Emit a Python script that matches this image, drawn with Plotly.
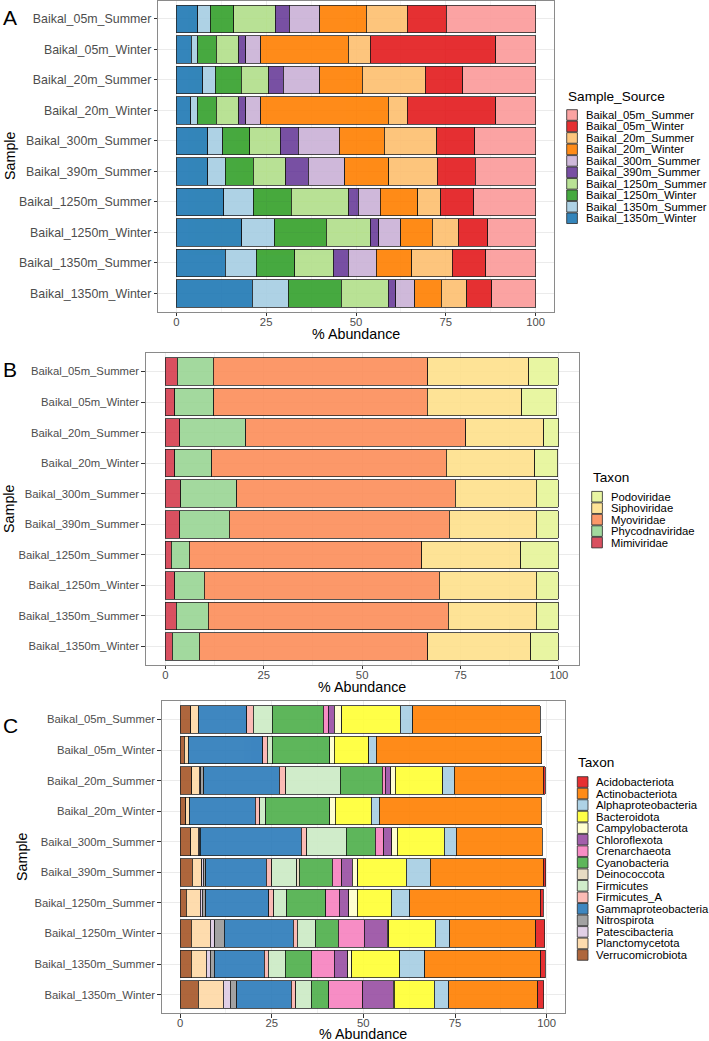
import plotly.graph_objects as go

W, H = 709, 1041
FONT = "Liberation Sans, Arial, sans-serif"

samples = ["Baikal_05m_Summer", "Baikal_05m_Winter", "Baikal_20m_Summer", "Baikal_20m_Winter",
           "Baikal_300m_Summer", "Baikal_390m_Summer", "Baikal_1250m_Summer", "Baikal_1250m_Winter",
           "Baikal_1350m_Summer", "Baikal_1350m_Winter"]

# ---- panel A: sample source (% abundance), stacked left to right
src_names = ["Baikal_1350m_Winter", "Baikal_1350m_Summer", "Baikal_1250m_Winter", "Baikal_1250m_Summer",
             "Baikal_390m_Summer", "Baikal_300m_Summer", "Baikal_20m_Winter", "Baikal_20m_Summer",
             "Baikal_05m_Winter", "Baikal_05m_Summer"]
src_colors = ["#1F78B4", "#A6CEE3", "#33A02C", "#B2DF8A", "#6A3D9A",
              "#CAB2D6", "#FF7F00", "#FDBF6F", "#E31A1C", "#FB9A99"]
src_1350m_winter = [6.0, 4.2, 7.4, 4.0, 8.8, 8.7, 13.2, 18.2, 13.6, 21.1]
src_1350m_summer = [3.5, 1.8, 3.5, 1.9, 4.1, 4.9, 8.2, 9.0, 8.6, 10.0]
src_1250m_winter = [6.5, 5.1, 7.2, 5.2, 7.6, 7.8, 10.6, 14.5, 10.7, 14.8]
src_1250m_summer = [11.6, 6.3, 7.6, 6.3, 8.4, 9.1, 16.0, 12.3, 10.8, 13.1]
src_390m_summer = [3.8, 1.9, 4.1, 1.9, 5.0, 6.2, 2.6, 2.3, 4.2, 2.1]
src_300m_summer = [8.5, 4.2, 10.1, 4.2, 11.4, 10.2, 6.2, 6.1, 7.7, 5.3]
src_20m_winter = [13.0, 24.4, 11.8, 35.5, 12.5, 12.2, 10.4, 8.8, 9.9, 7.3]
src_20m_summer = [11.4, 6.1, 17.6, 5.3, 14.6, 13.5, 6.4, 7.3, 11.3, 7.1]
src_05m_winter = [10.8, 34.9, 10.4, 24.6, 10.6, 10.6, 9.1, 8.2, 9.3, 7.0]
src_05m_summer = [24.9, 11.1, 20.3, 11.1, 17.0, 16.8, 17.3, 13.3, 13.9, 12.2]
src_values = [src_1350m_winter, src_1350m_summer, src_1250m_winter, src_1250m_summer, src_390m_summer,
              src_300m_summer, src_20m_winter, src_20m_summer, src_05m_winter, src_05m_summer]

# ---- panel B: viral families
vir_names = ["Mimiviridae", "Phycodnaviridae", "Myoviridae", "Siphoviridae", "Podoviridae"]
vir_colors = ["#D53E4F", "#99D594", "#FC8D59", "#FEE08B", "#E6F598"]
mimiviridae = [3.0, 2.3, 3.6, 2.3, 3.9, 3.6, 1.5, 2.3, 2.7, 1.7]
phycodnaviridae = [9.1, 10.0, 16.8, 9.5, 14.2, 12.6, 4.6, 7.6, 8.2, 6.9]
myoviridae = [54.6, 54.3, 55.9, 59.6, 55.6, 56.0, 59.0, 59.7, 61.0, 58.1]
siphoviridae = [25.7, 24.0, 19.9, 22.5, 20.6, 22.0, 25.2, 24.7, 22.4, 26.2]
podoviridae = [7.5, 8.8, 3.8, 5.8, 5.5, 5.6, 9.5, 5.5, 5.5, 7.0]
vir_values = [mimiviridae, phycodnaviridae, myoviridae, siphoviridae, podoviridae]

# ---- panel C: bacterial taxa
bac_names = ["Verrucomicrobiota", "Planctomycetota", "Patescibacteria", "Nitrospirota", "Gammaproteobacteria",
             "Firmicutes_A", "Firmicutes", "Deinococcota", "Cyanobacteria", "Crenarchaeota", "Chloroflexota",
             "Campylobacterota", "Bacteroidota", "Alphaproteobacteria", "Actinobacteriota", "Acidobacteriota"]
bac_colors = ["#A65628", "#FED9A6", "#DECBE4", "#999999", "#2B7BBA", "#FBB4AE", "#CCEBC5", "#E5D8BD",
              "#4DAF4A", "#F781BF", "#984EA3", "#FFFFCC", "#FFFF33", "#A6CEE3", "#FF7F00", "#E41A1C"]
verrucomicrobiota = [2.9, 1.2, 3.2, 1.5, 2.9, 3.4, 1.7, 3.1, 3.1, 5.0]
planctomycetota = [2.1, 1.0, 2.1, 1.0, 2.1, 2.5, 3.8, 5.2, 4.1, 6.8]
patescibacteria = [0, 0, 0.4, 0, 0.3, 0.5, 0.5, 1.2, 1.0, 1.9]
nitrospirota = [0, 0, 0.8, 0, 0.2, 0.6, 1.0, 2.6, 1.2, 1.8]
gammaproteobacteria = [13.2, 20.3, 20.6, 18.0, 27.6, 16.5, 17.2, 18.8, 13.6, 14.9]
firmicutes_a = [1.8, 1.3, 1.8, 1.3, 1.5, 1.5, 1.4, 1.1, 1.0, 1.2]
firmicutes = [5.2, 1.4, 14.8, 1.6, 10.7, 6.8, 3.5, 5.0, 4.7, 4.2]
deinococcota = [0, 0, 0, 0, 0, 0.7, 0, 0, 0, 0]
cyanobacteria = [13.9, 15.7, 11.5, 17.5, 8.0, 9.0, 10.6, 6.2, 7.2, 4.7]
crenarchaeota = [1.3, 0, 0.8, 0, 2.2, 2.6, 3.7, 7.0, 6.2, 9.4]
chloroflexota = [1.6, 0, 1.5, 0, 2.2, 2.9, 2.6, 6.3, 3.6, 8.3]
campylobacterota = [2.1, 1.2, 1.2, 1.4, 1.6, 1.5, 2.4, 0.4, 1.1, 0.2]
bacteroidota = [16.0, 9.4, 12.9, 9.8, 12.7, 13.2, 9.4, 12.7, 13.1, 11.0]
alphaproteobacteria = [3.4, 2.0, 3.2, 2.2, 3.4, 6.5, 4.8, 3.9, 6.8, 3.9]
actinobacteriota = [34.8, 45.2, 24.2, 44.2, 23.4, 30.9, 35.7, 23.5, 31.7, 24.2]
acidobacteriota = [0, 0, 0.6, 0, 0, 0.6, 0.7, 2.5, 1.2, 1.7]
bac_values = [verrucomicrobiota, planctomycetota, patescibacteria, nitrospirota, gammaproteobacteria,
              firmicutes_a, firmicutes, deinococcota, cyanobacteria, crenarchaeota, chloroflexota,
              campylobacterota, bacteroidota, alphaproteobacteria, actinobacteriota, acidobacteriota]

xticks = [0, 25, 50, 75, 100]


def px(x):
    return x / W


def py(y):
    return 1 - y / H


fig = go.Figure()

# panel frames in pixels: (left, right), (top, bottom), y label size, x-title offset
panels = [((158.3, 553.7), (0.5, 311.7), 12.4, 22),
          ((145.8, 578.5), (353.2, 664.8), 11.3, 22),
          ((161.7, 565.0), (701.1, 1013.0), 11.3, 20.5)]
datasets = [(src_names, src_colors, src_values),
            (vir_names, vir_colors, vir_values),
            (bac_names, bac_colors, bac_values)]

for i, ((names, colors, values), ((l, r), (t, b), ysize, toff)) in enumerate(zip(datasets, panels)):
    sfx = "" if i == 0 else str(i + 1)
    for name, col, vals in zip(names, colors, values):
        fig.add_trace(go.Bar(
            x=[v if v > 0 else None for v in vals], y=samples, orientation="h", name=name,
            marker=dict(color=col, line=dict(color="#111111", width=0.8)), opacity=0.9,
            xaxis="x" + sfx, yaxis="y" + sfx, showlegend=False, hoverinfo="x+y+name"))

    common = dict(showline=True, mirror=True, linecolor="#8a8a8a", linewidth=1,
                  ticks="outside", ticklen=3.5, tickwidth=1, tickcolor="#333333",
                  tickfont=dict(family=FONT, size=11.3, color="#4D4D4D"),
                  showgrid=True, gridcolor="#EBEBEB", gridwidth=1, zeroline=False, fixedrange=True)
    fig.layout["xaxis" + sfx] = dict(
        common, domain=[px(l), px(r)], anchor="y" + sfx, range=[-5, 105],
        tickmode="array", tickvals=xticks, ticklabelstandoff=-4,
        minor=dict(tickmode="array", tickvals=[12.5, 37.5, 62.5, 87.5], showgrid=True,
                   gridcolor="#F2F2F2", gridwidth=0.6, ticks=""))
    fig.layout["yaxis" + sfx] = dict(
        common, domain=[py(b), py(t)], anchor="x" + sfx, type="category",
        categoryorder="array", categoryarray=samples, range=[9.6, -0.6],
        tickfont=dict(family=FONT, size=ysize, color="#4D4D4D"))

    # axis title below each panel
    fig.add_annotation(text="% Abundance", x=px((l + r) / 2), y=py(b + toff), xref="paper", yref="paper",
                       showarrow=False, font=dict(family=FONT, size=14.3, color="black"),
                       xanchor="center", yanchor="middle")

ann_font = dict(family=FONT, color="black")

for txt, x, y in [("Sample", 10, 156), ("Sample", 9, 509), ("Sample", 22, 857)]:
    fig.add_annotation(text=txt, x=px(x), y=py(y), xref="paper", yref="paper", textangle=-90,
                       showarrow=False, font=dict(ann_font, size=14.3), xanchor="center", yanchor="middle")

for txt, y in [("A", 18), ("B", 369), ("C", 725)]:
    fig.add_annotation(text=txt, x=px(0.5), y=py(y), xref="paper", yref="paper", showarrow=False,
                       font=dict(ann_font, size=21), xanchor="left", yanchor="middle")


def draw_legend(title, names, colors, key_x, title_y, first_y, step=11.47):
    fig.add_annotation(text=title, x=px(key_x - 1), y=py(title_y), xref="paper", yref="paper",
                       showarrow=False, font=dict(ann_font, size=13.6), xanchor="left", yanchor="middle")
    for k, (name, col) in enumerate(zip(names, colors)):
        yc = first_y + k * step
        fig.add_shape(type="rect", xref="paper", yref="paper",
                      x0=px(key_x), x1=px(key_x + 10.7), y0=py(yc + 5.3), y1=py(yc - 5.3),
                      fillcolor=col, opacity=0.9, line=dict(color="#111111", width=0.8))
        fig.add_annotation(text=name, x=px(key_x + 17), y=py(yc), xref="paper", yref="paper",
                           showarrow=False, font=dict(ann_font, size=11.3), xanchor="left", yanchor="middle")


draw_legend("Sample_Source", src_names[::-1], src_colors[::-1], 566.7, 96.5, 115.0)
draw_legend("Taxon", vir_names[::-1], vir_colors[::-1], 591.7, 477.0, 496.7)
draw_legend("Taxon", bac_names[::-1], bac_colors[::-1], 577.3, 762.5, 782.0, 11.53)

fig.update_layout(width=W, height=H, margin=dict(l=0, r=0, t=0, b=0),
                  barmode="stack", bargap=0.1, plot_bgcolor="white", paper_bgcolor="white",
                  font=dict(family=FONT), showlegend=False)

# the page's default body margin would shift the figure by 8px
fig.write_html("out.html", config={"displayModeBar": False},
               post_script="document.body.style.margin='0px';")
